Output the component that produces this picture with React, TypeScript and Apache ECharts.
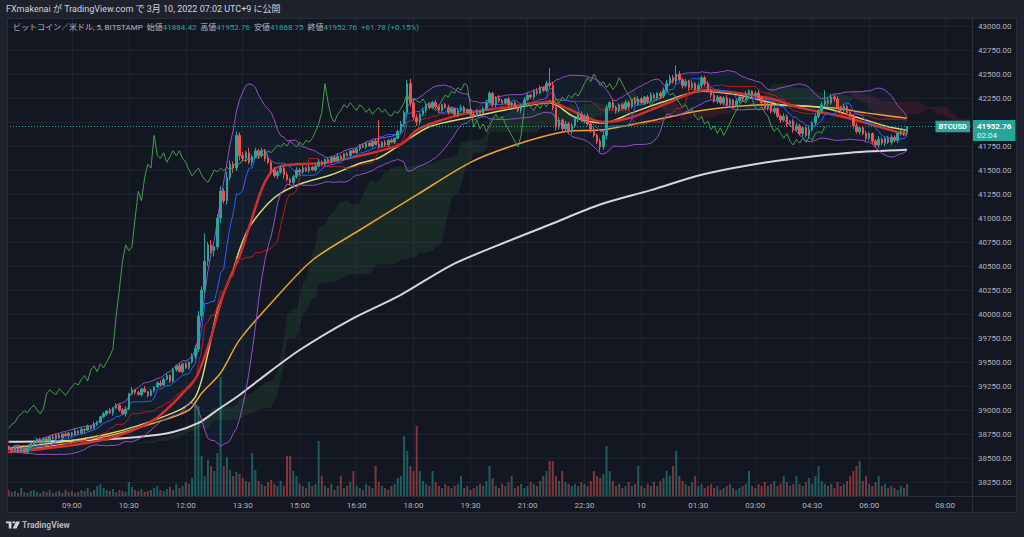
import React, { useEffect, useRef } from "react";
import * as echarts from "echarts";

// ---------- data ----------
const START_MINUTE = 440; // 07:20 on Mar 9 (5-minute bars)
const SLOT_COUNT = 305; // bars + empty future slots to the right edge

const firstOpen = 38620;
const closes: number[] = [
  38600, 38580, 38620, 38570, 38600, 38560, 38610, 38640,
  38660, 38690, 38650, 38700, 38680, 38720, 38700, 38740, 38710, 38750, 38730, 38760, 38740,
  38780, 38760, 38800, 38790, 38830, 38810, 38850, 38870,
  38930, 38960, 38990, 38970, 39020, 39050, 39000, 38960, 39010,
  39170, 39210, 39180, 39160, 39220, 39190, 39150, 39200, 39240,
  39280, 39260, 39320, 39360, 39300, 39420, 39460,
  39400, 39480, 39440, 39500,
  39560, 39640, 39980, 40250, 40550, 40720, 40660, 40700,
  41000, 41280, 41180, 41420, 41560, 41520, 41860, 41650, 41620, 41680, 41580,
  41640, 41700, 41650, 41700, 41620, 41580, 41500, 41440, 41480, 41520, 41450, 41400, 41370, 41430, 41500,
  41480, 41520, 41490, 41530, 41500, 41540, 41580, 41560, 41610, 41590, 41630, 41600, 41640, 41620, 41670, 41650, 41700, 41680, 41720, 41760, 41740, 41780, 41750, 41800, 41770,
  41740, 41790, 41760, 41810, 41790, 41830, 41900, 41980, 42100, 42400, 42200, 42050, 42000, 42080, 42120, 42180, 42150, 42200, 42160, 42120, 42180, 42150, 42100, 42140, 42080, 42120, 42150, 42100, 42130, 42080,
  42060, 42110, 42090, 42140, 42200, 42300, 42180, 42250, 42220, 42200, 42240, 42180, 42200, 42150, 42120, 42170, 42230, 42280, 42260, 42320, 42300, 42360, 42330, 42400, 42380,
  42150, 41950, 42020, 41930, 41980, 41900, 41960, 42030, 42080, 42020, 42060, 41980, 41920, 41860, 41800, 41740, 41860,
  42150, 42200, 42150, 42120, 42180, 42140, 42200, 42160, 42230, 42190, 42240, 42200, 42260, 42220, 42280, 42250, 42300, 42270, 42330, 42400, 42460, 42420, 42500, 42440, 42380, 42420, 42360, 42400, 42340, 42380, 42460, 42400,
  42330, 42280, 42220, 42260, 42200, 42250, 42180, 42230, 42170, 42220, 42260, 42240, 42290, 42320, 42280, 42300, 42250, 42200, 42150, 42180, 42110, 42140, 42060, 42020, 42060, 41980, 42010, 41920, 41960, 41880, 41940, 41860, 41920,
  41990, 42060, 42120, 42180, 42220, 42200, 42260, 42240, 42150, 42120, 42160, 42100, 42060, 41960, 41900, 41940, 41880, 41830, 41880, 41800, 41760, 41820, 41780, 41830, 41790, 41840, 41810, 41880, 41900, 41884.42, 41952.76,
];

// upper / lower wick length of each bar, one digit per bar, in tens of dollars
const wickUpDigits = `
1212131212 2121312121 1312121321 2131212313 1213121232 2121312134 5463524536 4353425232 3242323232 2323121232
1212321212 2121213212 1212323543 2321232123 2123212321 2321232121 2123212321 3342323232 2323232353 2321232123
2123212343 3432323232 2323212321 2123212321 2321232123 2123232343 3232323232 2321232123 2123200000`;
const wickDownDigits = `
2121212131 1212121212 2121312121 1213121312 2121212121 1212121223 3435363534 3535342423 2323232423 3232121212
2121212121 1212121212 2121232434 3232123212 1232123212 1212321232 1232123212 2234343232 3232323434 3232123212
1232123212 2323232323 3232323232 1232123212 3232323232 2323232323 2323232323 2323232323 2323200000`;
const highOverrides: Record<number, number> = {
  62: 40840, 72: 41900, 117: 42020, 126: 42440, 171: 42560, 211: 42590, 258: 42330, 284: 41952.76,
};
const lowOverrides: Record<number, number> = { 89: 41340, 187: 41690, 284: 41868.75 };

const volumes: number[] = [
  6, 4, 5, 3, 8, 4, 3, 5, 6, 4,
  3, 5, 4, 6, 3, 4, 5, 3, 6, 4,
  5, 3, 4, 6, 5, 8, 4, 6, 10, 12,
  8, 6, 5, 7, 4, 6, 5, 4, 14, 9,
  6, 5, 7, 4, 5, 6, 8, 10, 6, 5,
  7, 9, 6, 12, 8, 10, 14, 12, 18, 95,
  90, 40, 20, 36, 30, 25, 43, 119, 30, 39,
  26, 20, 24, 22, 18, 15, 14, 43, 26, 15,
  12, 10, 14, 16, 12, 10, 15, 10, 40, 40,
  25, 20, 12, 10, 8, 14, 10, 12, 55, 20,
  10, 8, 12, 6, 10, 20, 8, 10, 14, 25,
  10, 8, 6, 12, 10, 8, 30, 14, 10, 8,
  6, 10, 12, 18, 20, 60, 45, 30, 25, 70,
  25, 15, 12, 10, 25, 14, 10, 8, 12, 10,
  8, 10, 12, 20, 8, 10, 6, 8, 10, 12,
  10, 15, 30, 18, 10, 8, 12, 10, 14, 20,
  8, 10, 12, 8, 10, 14, 12, 10, 15, 20,
  25, 35, 35, 20, 15, 25, 14, 12, 10, 12,
  10, 14, 12, 10, 15, 25, 20, 18, 22, 50,
  25, 15, 10, 12, 8, 10, 14, 10, 12, 30,
  10, 8, 12, 10, 14, 10, 15, 18, 25, 20,
  30, 45, 20, 15, 12, 10, 14, 20, 10, 12,
  8, 10, 12, 8, 10, 6, 8, 10, 12, 8,
  6, 8, 10, 12, 25, 10, 8, 12, 10, 14,
  10, 12, 15, 10, 12, 20, 14, 10, 12, 20,
  12, 10, 14, 18, 12, 20, 30, 15, 12, 10,
  12, 8, 14, 10, 12, 15, 20, 25, 30, 35,
  15, 20, 12, 10, 14, 20, 10, 12, 8, 10,
  8, 6, 10, 8, 12,
];

// moving averages: [bar index, price]
const maWhite: [number, number][] = [
  [0, 38670], [20, 38680], [41, 38720], [52, 38770], [60, 38865], [66, 39000], [73, 39156], [79, 39310],
  [92, 39625], [108, 39940], [124, 40200], [140, 40510], [155, 40720], [171, 40930], [187, 41140],
  [203, 41290], [219, 41450], [234, 41550], [250, 41625], [266, 41680], [284, 41710],
];
const maOrange: [number, number][] = [
  [0, 38560], [30, 38720], [46, 38865], [57, 39000], [61, 39175], [67, 39385], [73, 39730], [84, 40150],
  [96, 40560], [111, 40875], [129, 41240], [146, 41580], [160, 41760], [176, 41900], [188, 41920],
  [207, 42040], [220, 42125], [240, 42180], [261, 42145], [271, 42095], [284, 42040],
];
const maYellow: [number, number][] = [
  [0, 38600], [30, 38740], [52, 38970], [59, 39135], [63, 39590], [66, 40040], [71, 40460], [73, 40670],
  [76, 40900], [82, 41150], [86, 41260], [93, 41365], [102, 41450], [111, 41570], [117, 41625], [125, 41790],
  [133, 41950], [146, 42050], [157, 42125], [171, 42200], [179, 42050], [188, 41990], [197, 42095],
  [207, 42210], [219, 42320], [231, 42280], [244, 42180], [257, 42150], [269, 42040], [278, 41950], [284, 41915],
];
const maRed: [number, number][] = [
  [0, 38560], [30, 38690], [46, 38900], [58, 39280], [60, 39385], [64, 39760], [68, 40220], [73, 40600],
  [76, 40900], [80, 41300], [83, 41480], [86, 41540], [91, 41560], [99, 41570], [102, 41585], [112, 41655],
  [121, 41730], [125, 41790], [129, 41915], [135, 42000], [146, 42100], [157, 42150], [171, 42210],
  [176, 42150], [188, 42000], [197, 42050], [207, 42180], [220, 42330], [240, 42250], [250, 42150],
  [261, 42075], [271, 41990], [284, 41865],
];

const lastBar = { open: 41884.42, high: 41952.76, low: 41868.75, close: 41952.76 };
const changeText = "+61.78 (+0.15%)";
const countdown = "02:04";

// ---------- styles ----------
const OUTER = "#1e222d";
const BG = "#131722";
const GRID = "#1e222e";
const BORDER = "#2a2e39";
const TEXT = "#b2b5be";
const UP = "#26a69a";
const DOWN = "#ef5350";
const FONT = "Roboto, 'Noto Sans CJK JP', sans-serif";

const LOGO_PATH = "M0 0 H14 V28 H7 V7 H0 Z M16.5 0 H23.5 V7 H16.5 Z M26 0 H36 L27 28 H17 Z";
echarts.graphic.registerShape("tvlogo", echarts.graphic.extendPath(LOGO_PATH, {}) as any);

function pad(n: number) {
  return n < 10 ? "0" + n : String(n);
}

function buildOption() {
  const N = closes.length;
  const opens = closes.map((c, i) => (i === 0 ? firstOpen : closes[i - 1]));
  const digits = (s: string) => s.replace(/\s/g, "").split("").map((d) => Number(d) * 10);
  const wUp = digits(wickUpDigits);
  const wDn = digits(wickDownDigits);
  const highs = closes.map((c, i) => highOverrides[i] ?? Math.max(opens[i], c) + wUp[i]);
  const lows = closes.map((c, i) => lowOverrides[i] ?? Math.min(opens[i], c) - wDn[i]);

  const categories: string[] = [];
  const marks: boolean[] = [];
  for (let s = 0; s < SLOT_COUNT; s++) {
    const total = START_MINUTE + 5 * s;
    const day2 = total >= 1440;
    const m = total % 1440;
    categories.push(day2 && m === 0 ? "10" : `${pad(Math.floor(m / 60))}:${pad(m % 60)}`);
    marks.push((m % 90 === 0 && m !== 450) || (day2 && m === 480));
  }
  const markFn = (idx: number) => marks[idx];

  const hl = (i: number, len: number) => {
    let hi = -Infinity;
    let lo = Infinity;
    for (let k = Math.max(0, i - len + 1); k <= i; k++) {
      hi = Math.max(hi, highs[k]);
      lo = Math.min(lo, lows[k]);
    }
    return (hi + lo) / 2;
  };
  const tenkan = closes.map((_, i) => hl(i, 9));
  const kijun = closes.map((_, i) => hl(i, 26));
  const chikou = closes.map((_, i) => (i + 26 < N ? closes[i + 26] : null));
  const spanA: (number | null)[] = new Array(SLOT_COUNT).fill(null);
  const spanB: (number | null)[] = new Array(SLOT_COUNT).fill(null);
  for (let i = 0; i < N; i++) {
    const j = i + 26;
    if (j < SLOT_COUNT) {
      spanA[j] = (tenkan[i] + kijun[i]) / 2;
      spanB[j] = hl(i, 52);
    }
  }
  const cloudBase = spanA.map((a, j) => (a === null ? null : Math.min(a, spanB[j] as number)));
  const cloudGreen = spanA.map((a, j) => (a === null ? null : Math.max(0, a - (spanB[j] as number))));
  const cloudRed = spanA.map((a, j) => (a === null ? null : Math.max(0, (spanB[j] as number) - a)));

  const bbUpper: number[] = [];
  const bbLower: number[] = [];
  for (let i = 0; i < N; i++) {
    const from = Math.max(0, i - 19);
    const win = closes.slice(from, i + 1);
    const mean = win.reduce((a, b) => a + b, 0) / win.length;
    const sd = Math.sqrt(win.reduce((a, b) => a + (b - mean) * (b - mean), 0) / win.length);
    bbUpper.push(mean + 2 * sd);
    bbLower.push(mean - 2 * sd);
  }
  const bbWidth = bbUpper.map((u, i) => u - bbLower[i]);

  const candles = closes.map((c, i) => [opens[i], c, lows[i], highs[i]]);
  const volData = volumes.map((v, i) => ({
    value: v,
    itemStyle: { color: closes[i] >= opens[i] ? "rgba(38,166,154,0.5)" : "rgba(239,83,80,0.5)" },
  }));

  const line = (name: string, data: any[], color: string, width: number, z = 3, smooth: any = false) => ({
    name,
    type: "line",
    data,
    xAxisIndex: 0,
    yAxisIndex: 0,
    showSymbol: false,
    symbol: "none",
    smooth,
    z,
    silent: true,
    lineStyle: { color, width },
  });

  return {
    animation: false,
    backgroundColor: BG,
    grid: [
      { left: 7, right: 52, top: 2, bottom: 31 },
      { left: 7, right: 52, bottom: 41, height: 200 },
    ],
    xAxis: [
      {
        type: "category",
        gridIndex: 0,
        data: categories,
        boundaryGap: true,
        axisLine: { show: false },
        axisTick: { show: false, interval: markFn },
        axisLabel: { show: false, interval: markFn },
        splitLine: { show: true, interval: markFn, alignWithLabel: true, lineStyle: { color: GRID, width: 1 } },
      },
      {
        type: "category",
        gridIndex: 1,
        data: categories,
        boundaryGap: true,
        z: 60,
        axisLine: { show: false },
        axisTick: { show: false },
        splitLine: { show: false },
        axisLabel: {
          show: true,
          interval: markFn,
          color: TEXT,
          fontSize: 8,
          fontFamily: FONT,
          margin: 5,
        },
      },
    ],
    yAxis: [
      {
        type: "value",
        gridIndex: 0,
        position: "right",
        min: 38000,
        max: 43250,
        interval: 250,
        axisLine: { show: false },
        axisTick: { show: false },
        splitLine: { show: true, lineStyle: { color: GRID, width: 1 } },
        axisLabel: {
          color: TEXT,
          fontSize: 8,
          fontFamily: FONT,
          margin: 6,
          formatter: (v: number) => (v < 38250 || v > 43000 ? "" : v.toFixed(2)),
        },
      },
      { type: "value", gridIndex: 1, min: 0, max: 200, show: false },
    ],
    series: [
      {
        type: "line", stack: "cloud", data: cloudBase, showSymbol: false, symbol: "none", z: 1, silent: true,
        lineStyle: { width: 0, opacity: 0 },
      },
      {
        type: "line", stack: "cloud", data: cloudGreen, showSymbol: false, symbol: "none", z: 1, silent: true,
        lineStyle: { width: 0, opacity: 0 }, areaStyle: { color: "rgba(67,160,71,0.13)", opacity: 1 },
      },
      {
        type: "line", stack: "cloud", data: cloudRed, showSymbol: false, symbol: "none", z: 1, silent: true,
        lineStyle: { width: 0, opacity: 0 }, areaStyle: { color: "rgba(242,54,69,0.13)", opacity: 1 },
      },
      {
        type: "line", stack: "bb", data: bbLower, showSymbol: false, symbol: "none", z: 1, silent: true,
        lineStyle: { width: 0, opacity: 0 },
      },
      {
        type: "line", stack: "bb", data: bbWidth, showSymbol: false, symbol: "none", z: 1, silent: true,
        lineStyle: { width: 0, opacity: 0 }, areaStyle: { color: "rgba(33,150,243,0.05)", opacity: 1 },
      },
      {
        type: "bar",
        xAxisIndex: 1,
        yAxisIndex: 1,
        data: volData,
        barWidth: 2,
        z: 1,
        silent: true,
      },
      line("白", maWhite, "#d6d6d6", 2, 3, 0.3),
      line("橙", maOrange, "#eca234", 1.5, 3, 0.3),
      line("黄", maYellow, "#d8d86c", 1.5, 3, 0.3),
      line("赤", maRed, "#d32f2f", 2.5, 3, 0.3),
      line("基準線", kijun, "#b71c1c", 1, 3),
      line("転換線", tenkan, "#2962ff", 1, 3),
      line("遅行スパン", chikou, "#43a047", 1, 3),
      line("BB上", bbUpper, "#9c4dcc", 1, 3),
      line("BB下", bbLower, "#9c4dcc", 1, 3),
      {
        type: "candlestick",
        xAxisIndex: 0,
        yAxisIndex: 0,
        data: candles,
        barWidth: 2,
        z: 5,
        silent: true,
        itemStyle: { color: UP, color0: DOWN, borderColor: UP, borderColor0: DOWN, borderWidth: 1 },
        markLine: {
          silent: true,
          symbol: "none",
          animation: false,
          lineStyle: { color: UP, type: [1, 2], width: 1 },
          data: [
            {
              yAxis: lastBar.close,
              label: {
                show: true,
                position: "end",
                distance: 1,
                offset: [0, 4],
                formatter: `{p|${lastBar.close.toFixed(2)}}\n{t|${countdown}}`,
                backgroundColor: UP,
                padding: [1, 4, 1, 4],
                rich: {
                  p: { color: "#ffffff", fontSize: 8, fontFamily: FONT, fontWeight: "bold", lineHeight: 10 },
                  t: { color: "#e8f5f3", fontSize: 8, fontFamily: FONT, lineHeight: 9 },
                },
              },
            },
            {
              yAxis: lastBar.close,
              label: {
                show: true,
                position: "insideEnd",
                distance: 2,
                formatter: "BTCUSD",
                color: "#ffffff",
                fontSize: 7.5,
                fontWeight: "bold",
                fontFamily: FONT,
                backgroundColor: UP,
                padding: [2, 3, 2, 3],
              },
            },
          ],
        },
      },
    ],
    graphic: [
      { type: "rect", z: 50, silent: true, shape: { x: 0, y: 0, width: 1024, height: 18 }, style: { fill: OUTER } },
      { type: "rect", z: 50, silent: true, shape: { x: 7, y: 496, width: 1010, height: 17 }, style: { fill: BG } },
      { type: "rect", z: 50, silent: true, shape: { x: 0, y: 513, width: 1024, height: 24 }, style: { fill: OUTER } },
      { type: "rect", z: 50, silent: true, shape: { x: 0, y: 0, width: 7, height: 537 }, style: { fill: OUTER } },
      { type: "rect", z: 50, silent: true, shape: { x: 1017, y: 0, width: 7, height: 537 }, style: { fill: OUTER } },
      {
        type: "rect", z: 55, silent: true, shape: { x: 7.5, y: 18.5, width: 1009, height: 494 },
        style: { fill: "none", stroke: BORDER, lineWidth: 1 },
      },
      {
        type: "line", z: 55, silent: true, shape: { x1: 972.5, y1: 18, x2: 972.5, y2: 513 },
        style: { stroke: BORDER, lineWidth: 1 },
      },
      {
        type: "line", z: 55, silent: true, shape: { x1: 7, y1: 496.5, x2: 1017, y2: 496.5 },
        style: { stroke: BORDER, lineWidth: 1 },
      },
      {
        type: "text", z: 60, silent: true, x: 6, y: 9,
        style: {
          text: "FXmakenai が TradingView.com で 3月 10, 2022 07:02 UTC+9 に公開",
          fill: "#d1d4dc", font: `9px ${FONT}`, textVerticalAlign: "middle",
        },
      },
      {
        type: "text", z: 60, silent: true, x: 13, y: 27,
        style: {
          text:
            `{l|ビットコイン／米ドル, 5, BITSTAMP}  {l|始値}{v|${lastBar.open.toFixed(2)}}  {l|高値}{v|${lastBar.high.toFixed(2)}}` +
            `  {l|安値}{v|${lastBar.low.toFixed(2)}}  {l|終値}{v|${lastBar.close.toFixed(2)}}  {v|${changeText}}`,
          font: `8px ${FONT}`,
          textVerticalAlign: "middle",
          rich: {
            l: { fill: TEXT, fontSize: 8, fontFamily: FONT },
            v: { fill: UP, fontSize: 8, fontFamily: FONT },
          },
        },
      },
      {
        type: "tvlogo", z: 60, silent: true, x: 6, y: 521.5, scaleX: 0.39, scaleY: 0.25,
        style: { fill: "#d1d4dc" },
      },
      {
        type: "text", z: 60, silent: true, x: 22, y: 525,
        style: { text: "TradingView", fill: TEXT, font: `bold 8.5px ${FONT}`, textVerticalAlign: "middle" },
      },
    ],
  };
}

export default function App() {
  const ref = useRef<HTMLDivElement>(null);
  useEffect(() => {
    document.body.style.margin = "0";
    document.body.style.background = OUTER;
    const chart = echarts.init(ref.current as HTMLDivElement, null, { renderer: "svg" });
    chart.setOption(buildOption() as any);
    return () => chart.dispose();
  }, []);
  return <div ref={ref} style={{ width: 1024, height: 537, position: "absolute", left: 0, top: 0 }} />;
}
